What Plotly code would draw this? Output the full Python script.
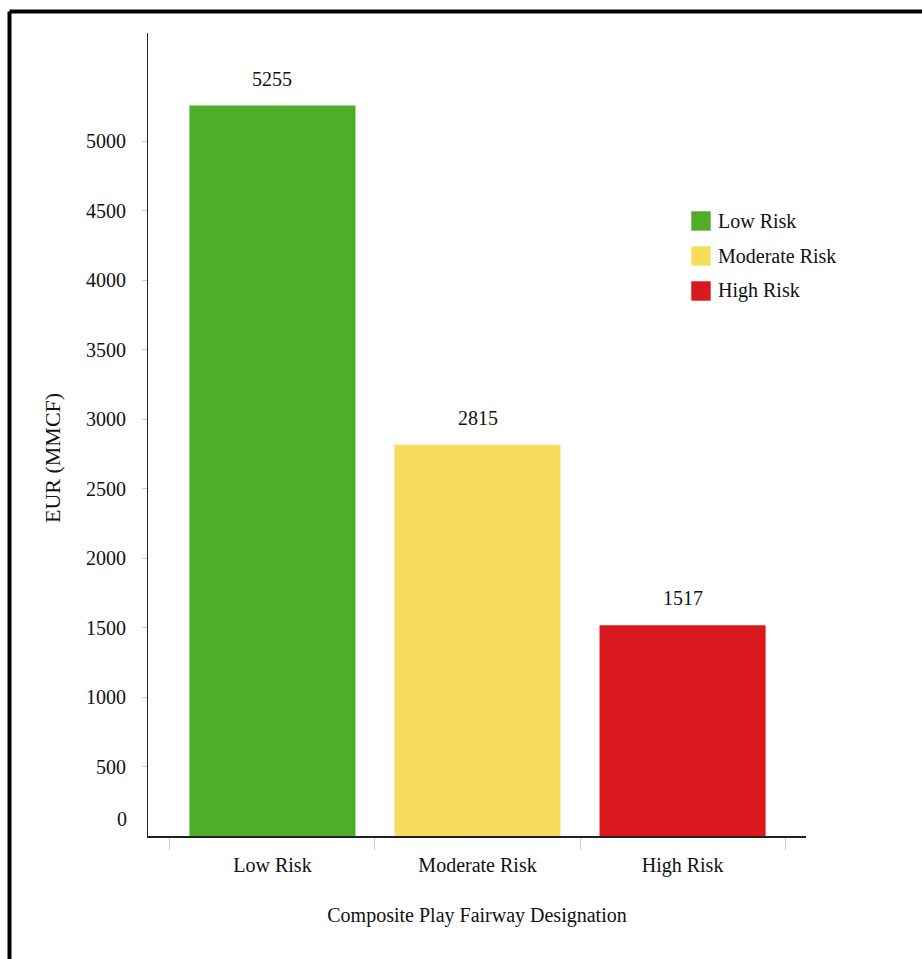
import plotly.graph_objects as go

categories = ["Low Risk", "Moderate Risk", "High Risk"]
values = [5255, 2815, 1517]
colors = ["#4FAE29", "#F8DC5C", "#D9191D"]
ytick_vals = [500, 1000, 1500, 2000, 2500, 3000, 3500, 4000, 4500, 5000]
ytick_text = [str(v) for v in ytick_vals]

FONT = "Liberation Serif"

fig = go.Figure()
for c, v, col in zip(categories, values, colors):
    fig.add_trace(go.Bar(x=[c], y=[v], name=c, marker=dict(color=col, line=dict(width=0)),
                         width=0.81, showlegend=False))

for c, v in zip(categories, values):
    fig.add_annotation(x=c, y=v, text=str(v), showarrow=False, yanchor="bottom",
                       yshift=14, font=dict(family=FONT, size=20, color="#111"))

# shifted zero label
fig.add_annotation(xref="paper", x=0, y=0, text="0", showarrow=False, xanchor="right",
                   xshift=-19, yshift=17, font=dict(family=FONT, size=20, color="#111"))

# y-axis title
fig.add_annotation(xref="paper", yref="paper", x=-0.144, y=0.471, text="EUR (MMCF)",
                   textangle=-90, showarrow=False, xanchor="center", yanchor="middle",
                   font=dict(family=FONT, size=22, color="#111"))

# custom legend (large square swatches)
leg_x0, leg_x1, leg_tx = 0.8252, 0.8556, 0.8632
leg_y0, leg_step, half = 0.7659, 0.04359, 0.01245
for i, (c, col) in enumerate(zip(categories, colors)):
    yc = leg_y0 - i * leg_step
    fig.add_shape(type="rect", xref="paper", yref="paper", x0=leg_x0, x1=leg_x1,
                  y0=yc - half, y1=yc + half, fillcolor=col, line=dict(width=1, color="rgba(255,255,255,0.6)"))
    fig.add_annotation(xref="paper", yref="paper", x=leg_tx, y=yc, text=c, showarrow=False,
                       xanchor="left", yanchor="middle", font=dict(family=FONT, size=20, color="#111"))

# frame lines
fig.add_shape(type="line", xref="paper", yref="paper", x0=-0.2105, x1=1.3, y0=1.0268, y1=1.0268,
              line=dict(color="black", width=4))
fig.add_shape(type="line", xref="paper", yref="paper", x0=-0.2105, x1=-0.2105, y0=1.0268, y1=-0.3,
              line=dict(color="black", width=4))

fig.update_layout(
    width=922, height=959,
    margin=dict(l=148, r=116, t=33, b=123),
    paper_bgcolor="white", plot_bgcolor="white",
    font=dict(family=FONT, size=20, color="#111"),
    bargap=0.19,
    showlegend=False,
    xaxis=dict(
        type="category", range=[-0.607, 2.602],
        showline=True, linecolor="#222", linewidth=2,
        ticks="outside", tickson="boundaries", ticklen=12, tickcolor="#ccc", tickwidth=1,
        ticklabelstandoff=10,
        showgrid=False, zeroline=False,
        title=dict(text="Composite Play Fairway Designation", font=dict(family=FONT, size=20), standoff=32),
        tickfont=dict(family=FONT, size=20),
    ),
    yaxis=dict(
        range=[0, 5777],
        tickmode="array", tickvals=ytick_vals, ticktext=ytick_text,
        showline=True, linecolor="#222", linewidth=1,
        ticks="outside", ticklen=5, tickcolor="#ccc",
        ticklabelstandoff=12,
        showgrid=False, zeroline=False,
        tickfont=dict(family=FONT, size=20),
    ),
)

fig.write_html("out.html")
